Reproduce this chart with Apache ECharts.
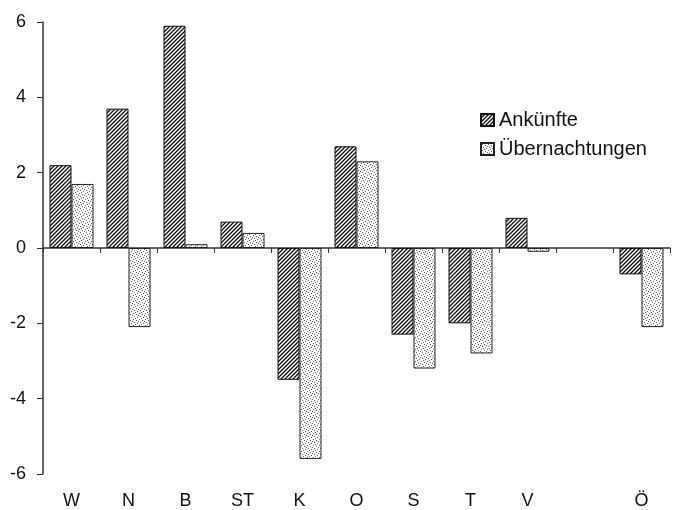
<!DOCTYPE html>
<html>
<head>
<meta charset="utf-8">
<script src="https://cdn.jsdelivr.net/npm/echarts@6/dist/echarts.min.js"></script>
<style>
html,body{margin:0;padding:0;background:#fff;}
#chart{width:674px;height:510px;}
</style>
</head>
<body>
<div id="chart"></div>
<script>
const categories = ['W', 'N', 'B', 'ST', 'K', 'O', 'S', 'T', 'V', '', 'Ö'];
const ankuenfte = [2.2, 3.7, 5.9, 0.7, -3.5, 2.7, -2.3, -2.0, 0.8, null, -0.7];
const uebernachtungen = [1.7, -2.1, 0.1, 0.4, -5.6, 2.3, -3.2, -2.8, -0.1, null, -2.1];
const yTicks = [-6, -4, -2, 0, 2, 4, 6];

function hatchPattern() {
  const c = document.createElement('canvas');
  c.width = 4; c.height = 4;
  const g = c.getContext('2d');
  g.fillStyle = '#fff'; g.fillRect(0, 0, 4, 4);
  g.strokeStyle = '#111'; g.lineWidth = 1.3;
  g.beginPath();
  g.moveTo(-1, 5); g.lineTo(5, -1);
  g.moveTo(-1, 1); g.lineTo(1, -1);
  g.moveTo(3, 5); g.lineTo(5, 3);
  g.stroke();
  return c;
}
function dotPattern() {
  const c = document.createElement('canvas');
  c.width = 6; c.height = 6;
  const g = c.getContext('2d');
  g.fillStyle = '#fff'; g.fillRect(0, 0, 6, 6);
  g.fillStyle = '#666';
  [[1,1],[4,2],[2,4],[5,5],[3,0],[0,3]].forEach(p => g.fillRect(p[0], p[1], 1, 1));
  return c;
}

const chart = echarts.init(document.getElementById('chart'), null, {renderer: 'canvas'});
const font = '"Liberation Sans", Arial, sans-serif';
chart.setOption({
  backgroundColor: '#fff',
  animation: false,
  textStyle: {fontFamily: font},
  grid: {left: 43, right: 4, top: 22, bottom: 34.5, containLabel: false},
  legend: {
    orient: 'vertical', left: 475, top: 105, itemGap: 9,
    itemWidth: 13, itemHeight: 12, icon: 'rect',
    textStyle: {fontSize: 20, color: '#111', fontFamily: font},
    data: ['Ankünfte', 'Übernachtungen']
  },
  xAxis: [{
    type: 'category', data: categories, position: 'bottom',
    axisLine: {onZero: true, lineStyle: {color: '#333', width: 1.5}},
    axisTick: {show: true, length: 5, lineStyle: {color: '#333'}},
    axisLabel: {show: false}
  }, {
    type: 'category', data: categories, position: 'bottom', gridIndex: 0,
    axisLine: {show: false, onZero: false}, axisTick: {show: false},
    axisLabel: {show: true, margin: 18, fontSize: 18, color: '#111', fontFamily: font}
  }],
  yAxis: {
    type: 'value', min: -6, max: 6, interval: 2,
    axisLine: {show: true, lineStyle: {color: '#333', width: 1.5}},
    axisTick: {show: true, length: 6, lineStyle: {color: '#333'}},
    axisLabel: {margin: 17, fontSize: 18, color: '#111', fontFamily: font,
      formatter: v => yTicks.includes(v) ? String(v) : ''},
    splitLine: {show: false}
  },
  series: [{
    name: 'Ankünfte', type: 'bar', data: ankuenfte, barWidth: 22, barGap: '0%',
    itemStyle: {color: {image: hatchPattern(), repeat: 'repeat'}, borderColor: '#111', borderWidth: 1}
  }, {
    name: 'Übernachtungen', type: 'bar', data: uebernachtungen, barWidth: 22,
    itemStyle: {color: {image: dotPattern(), repeat: 'repeat'}, borderColor: '#222', borderWidth: 1}
  }]
});
</script>
</body>
</html>
